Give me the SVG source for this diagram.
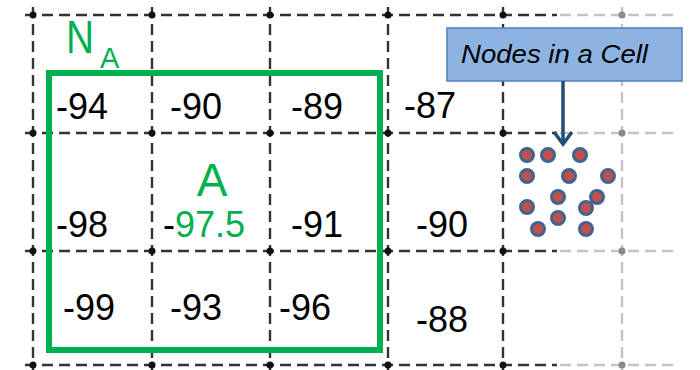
<svg xmlns="http://www.w3.org/2000/svg" width="700" height="370" viewBox="0 0 700 370">
<defs>
<style>
.gd{stroke:#333;stroke-width:2.4;stroke-dasharray:11 6;fill:none}
.gl{stroke:#c4c4c4;stroke-width:2.4;stroke-dasharray:11 6;fill:none}
.dot{fill:#111}
.dotg{fill:#8a8a8a}
.num{font-family:"Liberation Sans",Arial,sans-serif;font-size:36px;fill:#000}
.green{fill:#00b050}
.node{fill:#c0504d;stroke:#41648f;stroke-width:3}
</style>
<marker id="chev" viewBox="0 0 20 20" refX="17" refY="10" markerWidth="20" markerHeight="20" markerUnits="userSpaceOnUse" orient="auto">
<path d="M5 1 L17 10 L5 19" fill="none" stroke="#1f4e79" stroke-width="3.5" stroke-linejoin="miter"/>
</marker>
</defs>
<rect width="700" height="370" fill="#fff"/>
<g id="grid">
<path class="gd" d="M25 15H557M25 133H557M25 251H557M25 365H557"/>
<path class="gl" d="M560 15H675M560 133H675M560 251H675M560 365H675"/>
<path class="gd" d="M33 7V370M152 7V370M270 7V370M388 7V370M503 7V370"/>
<path class="gl" d="M622 7V370"/>
<g class="dot">
<circle cx="33" cy="15" r="3.5"/><circle cx="152" cy="15" r="3.5"/><circle cx="270" cy="15" r="3.5"/><circle cx="388" cy="15" r="3.5"/><circle cx="503" cy="15" r="3.5"/>
<circle cx="33" cy="133" r="3.5"/><circle cx="152" cy="133" r="3.5"/><circle cx="270" cy="133" r="3.5"/><circle cx="388" cy="133" r="3.5"/><circle cx="503" cy="133" r="3.5"/>
<circle cx="33" cy="251" r="3.5"/><circle cx="152" cy="251" r="3.5"/><circle cx="270" cy="251" r="3.5"/><circle cx="388" cy="251" r="3.5"/><circle cx="503" cy="251" r="3.5"/>
<circle cx="33" cy="365" r="3.5"/><circle cx="152" cy="365" r="3.5"/><circle cx="270" cy="365" r="3.5"/><circle cx="388" cy="365" r="3.5"/><circle cx="503" cy="365" r="3.5"/>
</g>
<g class="dotg">
<circle cx="622" cy="15" r="3.5"/><circle cx="622" cy="133" r="3.5"/><circle cx="622" cy="251" r="3.5"/><circle cx="622" cy="365" r="3.5"/>
</g>
</g>
<g id="neighborhood">
<rect x="49" y="73" width="331" height="277" fill="none" stroke="#00b050" stroke-width="6"/>
<text x="66" y="53" font-family="Liberation Sans,Arial,sans-serif" font-size="46" class="green" textLength="28" lengthAdjust="spacingAndGlyphs">N</text>
<text x="100" y="68" font-family="Liberation Sans,Arial,sans-serif" font-size="29" class="green">A</text>
</g>
<g id="values">
<text class="num" x="56" y="119">-94</text>
<text class="num" x="170" y="119">-90</text>
<text class="num" x="291" y="119">-89</text>
<text class="num" x="404" y="118">-87</text>
<text class="num" x="56" y="237">-98</text>
<text class="num" x="163" y="237">-<tspan class="green">97.5</tspan></text>
<text class="num" x="291" y="237">-91</text>
<text class="num" x="416" y="237">-90</text>
<text class="num" x="63" y="320">-99</text>
<text class="num" x="170" y="320">-93</text>
<text class="num" x="279" y="320">-96</text>
<text class="num" x="416" y="332">-88</text>
<text x="212" y="196" text-anchor="middle" font-family="Liberation Sans,Arial,sans-serif" font-size="46" class="green">A</text>
</g>
<g id="callout">
<rect x="447" y="28" width="235" height="53" fill="#8db3e2" stroke="#4f81bd" stroke-width="1.5"/>
<text x="461" y="63" font-family="Liberation Sans,Arial,sans-serif" font-size="25" font-style="italic" fill="#000" textLength="187" lengthAdjust="spacingAndGlyphs">Nodes in a Cell</text>
</g>
<g id="connectors">
<line x1="563" y1="81" x2="563" y2="144" stroke="#1f4e79" stroke-width="3.5" marker-end="url(#chev)"/>
</g>
<g id="nodes">
<circle class="node" cx="527" cy="155" r="6.5"/>
<circle class="node" cx="548" cy="155" r="6.5"/>
<circle class="node" cx="580" cy="155" r="6.5"/>
<circle class="node" cx="527" cy="176" r="6.5"/>
<circle class="node" cx="569" cy="176" r="6.5"/>
<circle class="node" cx="608" cy="176" r="6.5"/>
<circle class="node" cx="558" cy="197" r="6.5"/>
<circle class="node" cx="597" cy="197" r="6.5"/>
<circle class="node" cx="527" cy="207" r="6.5"/>
<circle class="node" cx="586" cy="208" r="6.5"/>
<circle class="node" cx="558" cy="218" r="6.5"/>
<circle class="node" cx="538" cy="229" r="6.5"/>
<circle class="node" cx="586" cy="229" r="6.5"/>
</g>
</svg>
